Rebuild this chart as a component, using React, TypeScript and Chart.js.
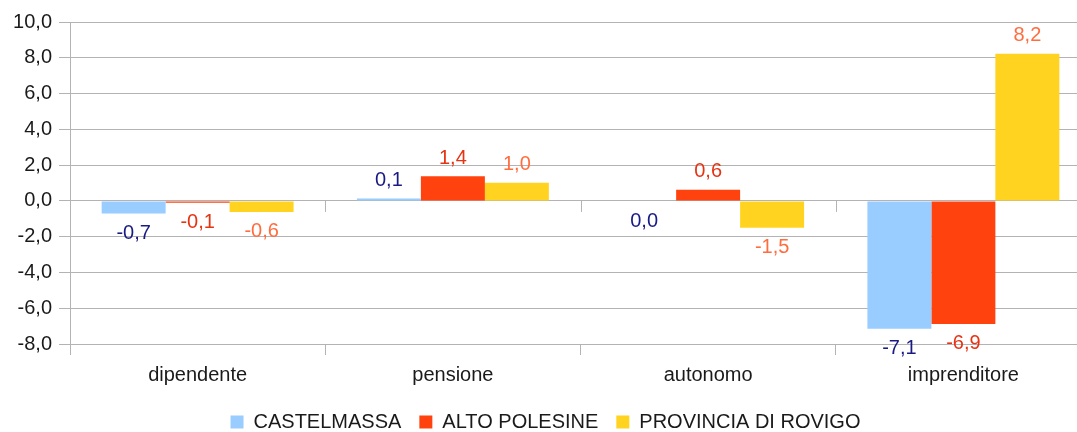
import React, { useEffect, useRef } from "react";
import { Chart, registerables } from "chart.js";

Chart.register(...registerables);

const categories = ["dipendente", "pensione", "autonomo", "imprenditore"];
const seriesNames = ["CASTELMASSA", "ALTO POLESINE", "PROVINCIA DI ROVIGO"];
const castelmassa = [-0.7, 0.13, -0.04, -7.15];
const altoPolesine = [-0.1, 1.38, 0.62, -6.88];
const provinciaRovigo = [-0.62, 1.01, -1.5, 8.22];
const barColors = ["#99ccff", "#ff420e", "#ffd320"];
const labelColors = ["#1a1a85", "#e63312", "#ff6d3f"];
const yMin = -8;
const yMax = 10;
const yStep = 2;

const FONT = "'Liberation Sans', Arial, sans-serif";
const GRID = "#b3b3b3";

const fmt = (v: number) => {
  const r = Math.round(v * 10) / 10;
  return (r === 0 ? 0 : r).toFixed(1).replace(".", ",");
};

const valueLabels = {
  id: "valueLabels",
  afterDatasetsDraw(chart: any) {
    const ctx = chart.ctx;
    ctx.save();
    ctx.font = `20px ${FONT}`;
    ctx.textAlign = "center";
    ctx.textBaseline = "middle";
    chart.data.datasets.forEach((ds: any, di: number) => {
      const meta = chart.getDatasetMeta(di);
      meta.data.forEach((el: any, i: number) => {
        const v = ds.data[i];
        const y = v >= 0 ? el.y - 18 : el.y + 20;
        ctx.fillStyle = labelColors[di];
        ctx.fillText(fmt(v), el.x, y);
      });
    });
    ctx.restore();
  },
};

const zeroTicks = {
  id: "zeroTicks",
  beforeDatasetsDraw(chart: any) {
    const xs = chart.scales.x;
    const ys = chart.scales.y;
    const y0 = ys.getPixelForValue(0);
    const n = categories.length;
    const w = (xs.right - xs.left) / n;
    const ctx = chart.ctx;
    ctx.save();
    ctx.strokeStyle = GRID;
    ctx.lineWidth = 1;
    for (let i = 1; i < n; i++) {
      const x = Math.round(xs.getPixelForValue(i) - w / 2) + 0.5;
      ctx.beginPath();
      ctx.moveTo(x, y0);
      ctx.lineTo(x, y0 + 11);
      ctx.stroke();
    }
    ctx.restore();
  },
};

export default function App() {
  const ref = useRef<HTMLCanvasElement | null>(null);
  useEffect(() => {
    document.body.style.margin = "0";
    const chart = new Chart(ref.current!, {
      type: "bar",
      data: {
        labels: categories,
        datasets: [castelmassa, altoPolesine, provinciaRovigo].map((d, i) => ({
          label: seriesNames[i],
          data: d,
          backgroundColor: barColors[i],
          borderWidth: 0,
          categoryPercentage: 0.752,
          barPercentage: 1,
        })),
      },
      options: {
        animation: false,
        responsive: false,
        layout: { padding: { top: 22, right: 5, left: 0, bottom: 0 } },
        plugins: {
          tooltip: { enabled: false },
          legend: {
            position: "bottom",
            labels: {
              font: { family: FONT, size: 20 },
              color: "#1a1a1a",
              boxWidth: 13,
              boxHeight: 13,
              padding: 18,
            },
          },
        },
        scales: {
          x: {
            afterFit: (s: any) => {
              s.height = 50;
            },
            grid: {
              drawOnChartArea: false,
              drawTicks: true,
              tickLength: 11,
              color: GRID,
              offset: true,
            },
            border: { display: true, color: GRID },
            ticks: {
              font: { family: FONT, size: 20 },
              color: "#1a1a1a",
              padding: 8,
            },
          },
          y: {
            min: yMin,
            max: yMax,
            afterFit: (s: any) => {
              s.width = 70;
            },
            grid: { color: GRID, tickLength: 11, drawTicks: true },
            border: { display: true, color: GRID },
            ticks: {
              stepSize: yStep,
              font: { family: FONT, size: 20 },
              color: "#1a1a1a",
              padding: 7,
              callback: (v: any) => Number(v).toFixed(1).replace(".", ","),
            },
          },
        },
      },
      plugins: [valueLabels, zeroTicks],
    });
    return () => chart.destroy();
  }, []);
  return (
    <div style={{ position: "absolute", left: 0, top: 0, width: 1077, height: 432, overflow: "hidden", background: "#fff" }}>
      <canvas ref={ref} width={1096} height={442} style={{ display: "block" }} />
    </div>
  );
}
